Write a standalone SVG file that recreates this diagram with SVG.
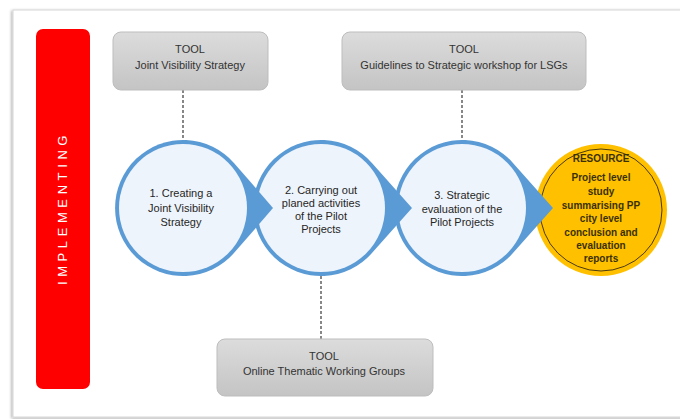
<svg xmlns="http://www.w3.org/2000/svg" width="680" height="419" viewBox="0 0 680 419">
  <defs>
    <linearGradient id="toolFill" x1="0" y1="0" x2="0" y2="1">
      <stop offset="0" stop-color="#dcdcdc"/>
      <stop offset="1" stop-color="#c4c4c4"/>
    </linearGradient>
    <filter id="cardShadow" x="-5%" y="-5%" width="110%" height="110%">
      <feGaussianBlur in="SourceAlpha" stdDeviation="1.5"/>
      <feOffset dx="-1" dy="1"/>
      <feComponentTransfer><feFuncA type="linear" slope="0.35"/></feComponentTransfer>
      <feMerge><feMergeNode/><feMergeNode in="SourceGraphic"/></feMerge>
    </filter>
  </defs>
  <style>
    .tool rect { fill: url(#toolFill); stroke: #bdbdbd; stroke-width: 1; }
    .tool text { font-family: "Liberation Sans", Arial, sans-serif; font-size: 11px; fill: #333; text-anchor: middle; }
    .step .ring { fill: #5b9bd5; }
    .step .core { fill: #eef4fb; }
    .step text { font-family: "Liberation Sans", Arial, sans-serif; font-size: 11px; fill: #262626; text-anchor: middle; }
    .res text { font-family: "Liberation Sans", Arial, sans-serif; font-size: 10px; font-weight: bold; fill: #3a3000; text-anchor: middle; }
    .link { stroke: #555; stroke-width: 1.4; stroke-dasharray: 3 2; fill: none; }
  </style>

  <rect width="680" height="419" fill="#ffffff"/>
  <!-- card -->
  <rect x="13" y="10" width="680" height="407" fill="#ffffff" stroke="#d6d6d6" stroke-width="1" filter="url(#cardShadow)"/>

  <!-- phase bar -->
  <g id="phase">
    <rect x="36" y="29" width="54" height="360" rx="7" fill="#ff0000"/>
    <text transform="translate(67,208) rotate(-90)" font-family="Liberation Sans, Arial, sans-serif" font-size="13" letter-spacing="4.6" fill="#ffffff" text-anchor="middle">IMPLEMENTING</text>
  </g>

  <!-- connectors -->
  <g id="connectors">
    <line class="link" x1="183" y1="90" x2="183" y2="141"/>
    <line class="link" x1="462" y1="90" x2="462" y2="142"/>
    <line class="link" x1="321" y1="276" x2="321" y2="339"/>
  </g>

  <!-- tools -->
  <g id="tool-visibility" class="tool">
    <rect x="113" y="32" width="155" height="58" rx="8"/>
    <text x="190" y="53">TOOL</text>
    <text x="190" y="69">Joint Visibility Strategy</text>
  </g>
  <g id="tool-guidelines" class="tool">
    <rect x="342" y="32" width="244" height="58" rx="8"/>
    <text x="464" y="53">TOOL</text>
    <text x="464" y="69">Guidelines to Strategic workshop for LSGs</text>
  </g>
  <g id="tool-online" class="tool">
    <rect x="217" y="339" width="216" height="57" rx="8"/>
    <text x="324" y="360">TOOL</text>
    <text x="324" y="375">Online Thematic Working Groups</text>
  </g>

  <!-- resource -->
  <g id="resource" class="res">
    <circle cx="601" cy="210" r="66" fill="#ffc000"/>
    <circle cx="601" cy="210" r="61" fill="none" stroke="#4a3a10" stroke-width="1"/>
    <text x="601" y="162">RESOURCE</text>
    <text x="601" y="181">Project level</text>
    <text x="601" y="195">study</text>
    <text x="601" y="209">summarising PP</text>
    <text x="601" y="222">city level</text>
    <text x="601" y="236">conclusion and</text>
    <text x="601" y="249">evaluation</text>
    <text x="601" y="262">reports</text>
  </g>

  <!-- step 3 -->
  <g id="step3" class="step">
    <path class="ring" d="M553,208 L513.4,252.6 A68,68 0 1 1 513.4,163.4 Z"/>
    <circle class="core" cx="462" cy="208" r="64"/>
    <text x="462" y="199">3. Strategic</text>
    <text x="462" y="213">evaluation of the</text>
    <text x="462" y="226">Pilot Projects</text>
  </g>

  <!-- step 2 -->
  <g id="step2" class="step">
    <path class="ring" d="M412,208 L372.4,252.6 A68,68 0 1 1 372.4,163.4 Z"/>
    <circle class="core" cx="321" cy="208" r="64"/>
    <text x="321" y="194">2. Carrying out</text>
    <text x="321" y="207">planed activities</text>
    <text x="321" y="220">of the Pilot</text>
    <text x="321" y="233">Projects</text>
  </g>

  <!-- step 1 -->
  <g id="step1" class="step">
    <path class="ring" d="M273,208 L234.4,252.6 A68,68 0 1 1 234.4,163.4 Z"/>
    <circle class="core" cx="183" cy="208" r="64"/>
    <text x="181" y="197">1. Creating a</text>
    <text x="181" y="212">Joint Visibility</text>
    <text x="181" y="226">Strategy</text>
  </g>
</svg>
